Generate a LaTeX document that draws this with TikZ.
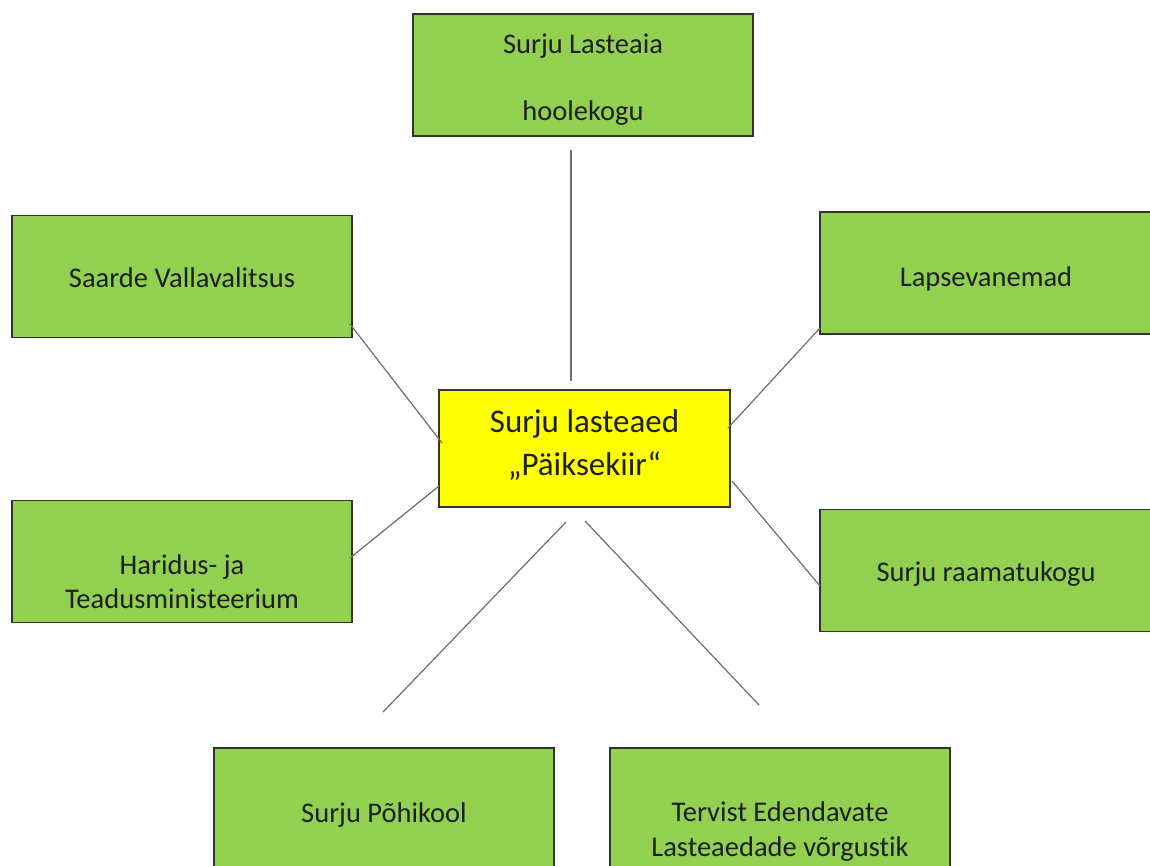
\documentclass[tikz,border=0pt]{standalone}
\usepackage{fontspec}
\setmainfont{Carlito}[Ligatures={NoCommon}]
\definecolor{boxgreen}{HTML}{92D050}
\definecolor{boxyellow}{HTML}{FFFF00}
\definecolor{edgegray}{HTML}{333333}
\definecolor{linegray}{HTML}{6E6E6E}
\definecolor{txt}{HTML}{1E1E1E}
\begin{document}
\begin{tikzpicture}[x=1pt,y=-1pt,
  greenbox/.style={draw=edgegray,line width=1.3pt,fill=boxgreen,minimum width=340pt,minimum height=122pt,inner sep=0pt},
  centerbox/.style={draw=edgegray,line width=1.3pt,fill=boxyellow,minimum width=291pt,minimum height=117pt,inner sep=0pt},
  gtext/.style={align=center,inner sep=0pt,font=\fontsize{28.5}{34}\selectfont,text=txt},
  ctext/.style={align=center,inner sep=0pt,font=\fontsize{33}{43.5}\selectfont,text=txt},
  conn/.style={draw=linegray,line width=1.2pt}]
\useasboundingbox (0,0) rectangle (1150,865);
\clip (0,0) rectangle (1150,865);
\fill[white] (0,0) rectangle (1150,865);
% boxes
\node[greenbox,label={[gtext,font=\fontsize{28.5}{33.5}\selectfont,yshift=-4.5pt]center:{Surju Lasteaia\\\mbox{}\\hoolekogu}}] (top) at (583,75) {};
\node[centerbox,label={[ctext,yshift=3.5pt]center:{Surju lasteaed\\„Päiksekiir“}}] (center) at (584.5,448.5) {};
\node[greenbox,label={[gtext,yshift=-1pt]center:{Saarde Vallavalitsus}}] (saarde) at (182,276.5) {};
\node[greenbox,label={[gtext,yshift=-20pt]center:{Haridus- ja\\Teadusministeerium}}] (haridus) at (182,561.5) {};
\node[greenbox,minimum width=332pt,label={[gtext,yshift=-6pt]center:{Lapsevanemad}}] (lapse) at (986,273) {};
\node[greenbox,minimum width=332pt,label={[gtext,yshift=-4pt]center:{Surju raamatukogu}}] (raamat) at (986,570.5) {};
\node[greenbox,label={[gtext,yshift=-6pt]center:{Surju Põhikool}}] (pohi) at (384,809) {};
\node[greenbox,label={[gtext,font=\fontsize{28.5}{35}\selectfont,yshift=-23pt]center:{Tervist Edendavate\\Lasteaedade võrgustik}}] (tervist) at (780,809) {};
% connector ends
\coordinate (t1) at (571,150); \coordinate (t2) at (571,381);
\coordinate (s1) at (350,324); \coordinate (s2) at (442,443);
\coordinate (h1) at (350,558); \coordinate (h2) at (439,486);
\coordinate (l1) at (820,328); \coordinate (l2) at (728,428);
\coordinate (r1) at (820,586); \coordinate (r2) at (732,481);
\coordinate (p1) at (566,522); \coordinate (p2) at (383,712);
\coordinate (v1) at (585,521); \coordinate (v2) at (759,705);
\draw[conn] (t1) -- (t2);
\draw[conn] (s1) -- (s2);
\draw[conn] (h1) -- (h2);
\draw[conn] (l1) -- (l2);
\draw[conn] (r1) -- (r2);
\draw[conn] (p1) -- (p2);
\draw[conn] (v1) -- (v2);
\end{tikzpicture}
\end{document}
